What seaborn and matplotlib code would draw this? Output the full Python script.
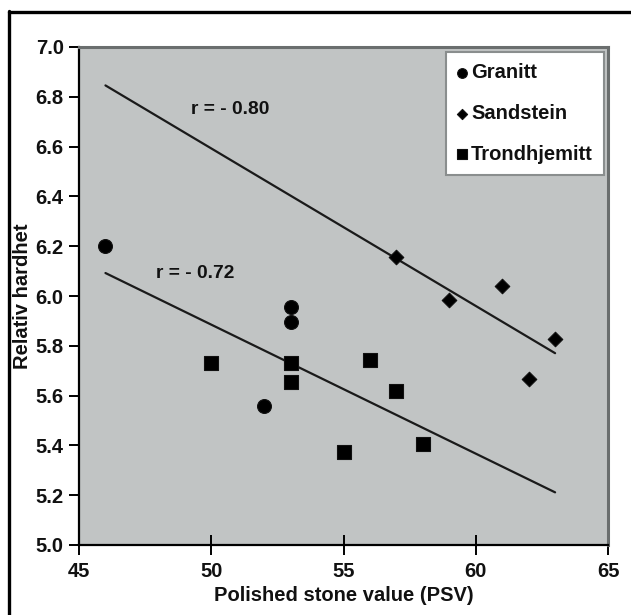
import numpy as np
import pandas as pd
import matplotlib
matplotlib.use("Agg")
import matplotlib.pyplot as plt
from matplotlib.lines import Line2D
import seaborn as sns

# Polished stone value (PSV) and relative hardness per rock type
granitt_psv = [46, 53, 53, 52]
granitt_hard = [6.20, 5.956, 5.897, 5.56]

sandstein_psv = [57, 59, 61, 62, 63]
sandstein_hard = [6.157, 5.983, 6.039, 5.668, 5.827]

trond_psv = [50, 53, 53, 56, 57, 55, 58]
trond_hard = [5.73, 5.73, 5.656, 5.741, 5.62, 5.373, 5.407]

rock_names = ["Granitt", "Sandstein", "Trondhjemitt"]
x_ticks = [45, 50, 55, 60, 65]
y_ticks = [5.0, 5.2, 5.4, 5.6, 5.8, 6.0, 6.2, 6.4, 6.6, 6.8, 7.0]

df = pd.concat([
    pd.DataFrame({"psv": granitt_psv, "hard": granitt_hard, "rock": rock_names[0]}),
    pd.DataFrame({"psv": sandstein_psv, "hard": sandstein_hard, "rock": rock_names[1]}),
    pd.DataFrame({"psv": trond_psv, "hard": trond_hard, "rock": rock_names[2]}),
], ignore_index=True)

sns.set_theme(style="white")
plt.rcParams["font.family"] = ["Liberation Sans", "DejaVu Sans"]
plt.rcParams["font.weight"] = "bold"

fig = plt.figure(figsize=(6.31, 6.15), dpi=100)
ax = fig.add_axes([79 / 631, 1 - 545 / 615, (608 - 79) / 631, (545 - 47) / 615])
ax.set_facecolor("#c1c4c4")

marker_map = {"Granitt": ("o", 100), "Sandstein": ("D", 55), "Trondhjemitt": ("s", 115)}
for name in rock_names:
    sub = df[df["rock"] == name]
    m, s = marker_map[name]
    sns.scatterplot(data=sub, x="psv", y="hard", marker=m, s=s, color="black",
                    edgecolor="#111111", linewidth=0.8, ax=ax, label=name, zorder=3)

# Linear trends: Sandstein alone, Granitt + Trondhjemitt together
x_span = np.array([df["psv"].min(), df["psv"].max()], dtype=float)

sand = df[df["rock"] == "Sandstein"]
low = df[df["rock"] != "Sandstein"]
for grp in (sand, low):
    k, b = np.polyfit(grp["psv"], grp["hard"], 1)
    sns.lineplot(x=x_span, y=k * x_span + b, color="#1a1a1a", linewidth=1.6,
                 ax=ax, legend=False, zorder=2)

r_sand = np.corrcoef(sand["psv"], sand["hard"])[0, 1]
r_low = np.corrcoef(low["psv"], low["hard"])[0, 1]

def r_text(r):
    return "r = - {:.2f}".format(abs(r)) if r < 0 else "r = {:.2f}".format(r)

ax.text(49.23, 6.75, r_text(r_sand), fontsize=13.8, fontweight="bold",
        ha="left", va="center", color="#111111")
ax.text(47.91, 6.09, r_text(r_low), fontsize=13.8, fontweight="bold",
        ha="left", va="center", color="#111111")

ax.set_xlim(45, 65)
ax.set_ylim(5.0, 7.0)
ax.set_xticks(x_ticks)
ax.set_xticklabels([str(v) for v in x_ticks])
ax.set_yticks(y_ticks)
ax.set_yticklabels(["{:.1f}".format(v) for v in y_ticks])

ax.tick_params(axis="x", direction="inout", length=14, width=1.4, color="black",
               labelsize=14.5, pad=5, bottom=True)
ax.tick_params(axis="y", direction="out", length=7, width=1.4, color="black",
               labelsize=14.5, pad=4, left=True)
for lab in ax.get_xticklabels() + ax.get_yticklabels():
    lab.set_fontweight("bold")
    lab.set_color("#111111")

ax.set_xlabel("Polished stone value (PSV)", fontsize=14.5, fontweight="bold",
              color="#111111", labelpad=4)
ax.set_ylabel("Relativ hardhet", fontsize=14.5, fontweight="bold",
              color="#111111")
ax.yaxis.set_label_coords((32 - 79) / 529, 0.5)

for side in ("left", "bottom"):
    ax.spines[side].set_color("black")
    ax.spines[side].set_linewidth(1.6)
for side in ("top", "right"):
    ax.spines[side].set_color("#6a6e6e")
    ax.spines[side].set_linewidth(2.2)

leg = ax.legend(loc="upper right", bbox_to_anchor=(0.9924, 0.99), borderaxespad=0,
                frameon=True, fancybox=False, fontsize=14.5, markerscale=0.7,
                handlelength=0.5, handletextpad=0.2, labelspacing=1.08,
                borderpad=0.55)
leg.get_frame().set_edgecolor("#8a8e8e")
leg.get_frame().set_linewidth(1.5)
leg.get_frame().set_facecolor("white")
leg.get_frame().set_alpha(1.0)
for t in leg.get_texts():
    t.set_fontweight("bold")
    t.set_color("#111111")

# Outer frame around the figure (top and left edges visible)
fig.add_artist(Line2D([9 / 631, 9 / 631], [1 - 11 / 615, -0.05], color="black",
                      linewidth=2.4, transform=fig.transFigure, clip_on=False))
fig.add_artist(Line2D([9 / 631, 1.05], [1 - 12 / 615, 1 - 12 / 615], color="black",
                      linewidth=2.4, transform=fig.transFigure, clip_on=False))

fig.savefig("out.png", dpi=100, facecolor="white")
